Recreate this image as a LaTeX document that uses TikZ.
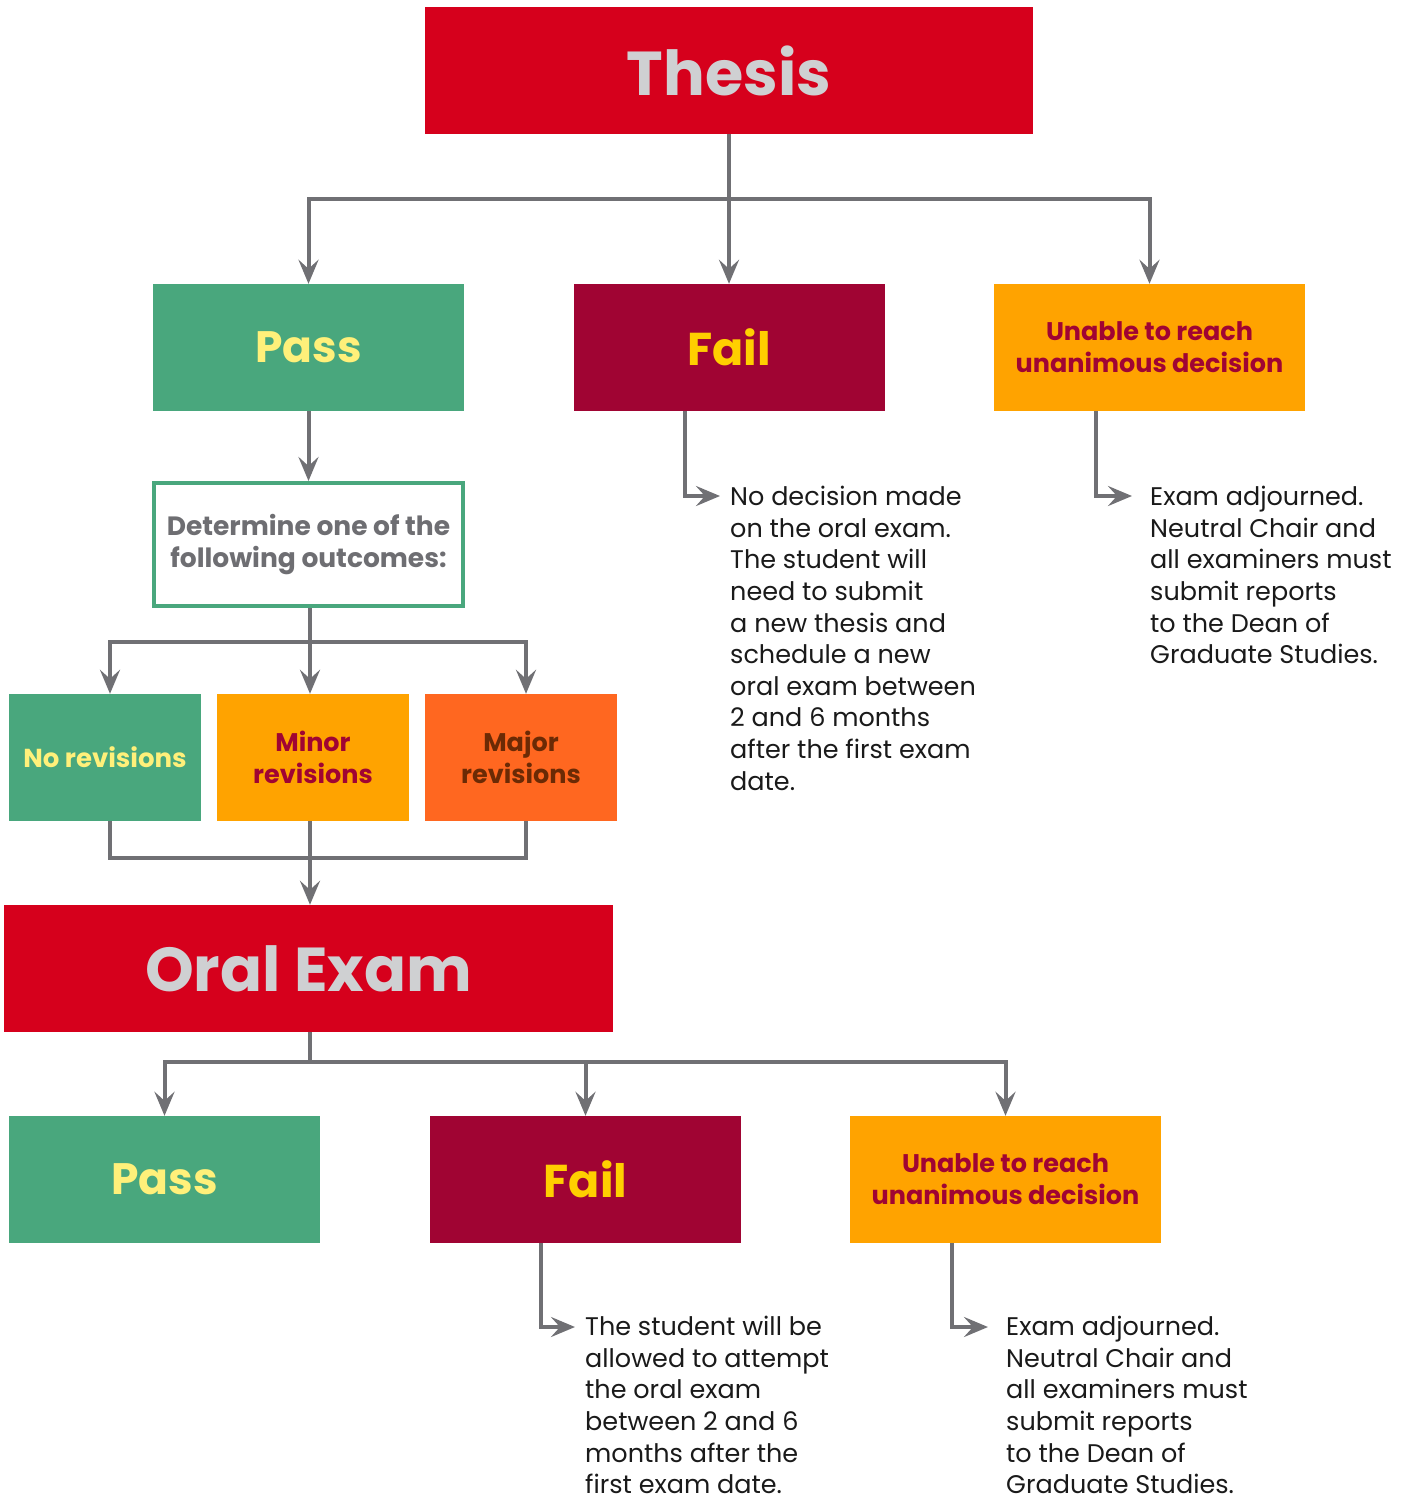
\documentclass[tikz,border=0pt]{standalone}
\usepackage{fontspec}
\setmainfont{Poppins}
\usetikzlibrary{arrows.meta}
\definecolor{cred}{HTML}{D6001C}
\definecolor{cgreen}{HTML}{49A77D}
\definecolor{cdark}{HTML}{A00433}
\definecolor{corange}{HTML}{FFA300}
\definecolor{corange2}{HTML}{FF6720}
\definecolor{cline}{HTML}{707074}
\definecolor{ctitle}{HTML}{CFD0D2}
\definecolor{cyel}{HTML}{FFF07A}
\definecolor{cgold}{HTML}{FFCF00}
\definecolor{cbrown}{HTML}{6B2A05}
\definecolor{cgtext}{HTML}{6E6E72}
\definecolor{ctext}{HTML}{1A1A1A}
\tikzset{
  x=1pt,y=-1pt,
  box/.style={rectangle,inner sep=0pt,minimum height=127pt,align=center,font=\bfseries},
  wbox/.style={box,minimum width=311pt},
  sbox/.style={box,minimum width=192pt},
  conn/.style={draw=cline,line width=4pt,-{Stealth[length=24pt,width=20pt,inset=9pt]}},
  plain/.style={draw=cline,line width=4pt},
  note/.style={anchor=north west,inner sep=0pt,align=left,text=ctext,font=\fontsize{25.5}{31.6}\selectfont},
}
\begin{document}
\begin{tikzpicture}
\useasboundingbox (0,0) rectangle (1410,1500);
% boxes
\node[box,minimum width=608pt,fill=cred,text=ctitle,font=\fontsize{62}{70}\selectfont\bfseries] (thesis) at (729,70.5) {Thesis};
\node[wbox,fill=cgreen,text=cyel,font=\fontsize{44}{52}\selectfont\bfseries] (pass1) at (308.5,347.5) {Pass};
\node[wbox,fill=cdark,text=cgold,font=\fontsize{46}{52}\selectfont\bfseries] (fail1) at (729,347.5) {Fail};
\node[wbox,fill=corange,text=cdark,font=\fontsize{25.5}{32}\selectfont\bfseries] (un1) at (1149.5,347.5) {Unable to reach\\unanimous decision};
\node[box,minimum width=309pt,minimum height=123pt,draw=cgreen,line width=4pt,fill=white,text=cgtext,font=\fontsize{26.5}{32}\selectfont\bfseries] (det) at (308.5,544.5) {Determine one of the\\following outcomes:};
\node[sbox,fill=cgreen,text=cyel,font=\fontsize{26}{32}\selectfont\bfseries] (norev) at (105,757.5) {No revisions};
\node[sbox,fill=corange,text=cdark,font=\fontsize{25.5}{32}\selectfont\bfseries] (minor) at (313,757.5) {Minor\\revisions};
\node[sbox,fill=corange2,text=cbrown,font=\fontsize{25.5}{32}\selectfont\bfseries] (major) at (521,757.5) {Major\\revisions};
\node[box,minimum width=609pt,fill=cred,text=ctitle,font=\fontsize{62}{70}\selectfont\bfseries] (oral) at (308.5,968.5) {Oral Exam};
\node[wbox,fill=cgreen,text=cyel,font=\fontsize{44}{52}\selectfont\bfseries] (pass2) at (164.5,1179.5) {Pass};
\node[wbox,fill=cdark,text=cgold,font=\fontsize{46}{52}\selectfont\bfseries] (fail2) at (585.5,1179.5) {Fail};
\node[wbox,fill=corange,text=cdark,font=\fontsize{25.5}{32}\selectfont\bfseries] (un2) at (1005.5,1179.5) {Unable to reach\\unanimous decision};
% notes
\node[note] (n1) at (730,486) {No decision made\\on the oral exam.\\The student will\\need to submit\\a new thesis and\\schedule a new\\oral exam between\\2 and 6 months\\after the first exam\\date.};
\node[note] (n2) at (1150,486) {Exam adjourned.\\Neutral Chair and\\all examiners must\\submit reports\\to the Dean of\\Graduate Studies.};
\node[note] (n3) at (585,1316) {The student will be\\allowed to attempt\\the oral exam\\between 2 and 6\\months after the\\first exam date.};
\node[note] (n4) at (1006,1316) {Exam adjourned.\\Neutral Chair and\\all examiners must\\submit reports\\to the Dean of\\Graduate Studies.};
% coordinates
\coordinate (tb) at (729,199);
\coordinate (b1) at (310,642);
\coordinate (b2) at (310,858);
\coordinate (ob) at (310,1062);
% thesis connectors
\draw[conn] (thesis.south) -- (fail1.north);
\draw[conn] (tb) -| (pass1.north);
\draw[conn] (tb) -| (un1.north);
\draw[conn] (pass1.south) -- (det.north);
% determine
\draw[plain] (det.south -| b1) -- (b1);
\draw[conn] (b1) -- (b1 |- minor.north);
\draw[conn] (b1) -| ([xshift=5pt]norev.north);
\draw[conn] (b1) -| ([xshift=5pt]major.north);
\draw[plain] ([xshift=5pt]norev.south) |- (b2) -| ([xshift=5pt]major.south);
\draw[plain] (b1 |- minor.south) -- (b2);
\draw[conn] (b2) -- (b2 |- oral.north);
% oral
\draw[plain] (oral.south -| ob) -- (ob);
\draw[conn] (ob) -| (pass2.north);
\draw[conn] (ob) -| (fail2.north);
\draw[conn] (ob) -| (un2.north);
% side notes
\draw[conn] ([xshift=-44pt]fail1.south) |- ([xshift=-10pt,yshift=-10pt]n1.north west);
\draw[conn] ([xshift=-53.5pt]un1.south) |- ([xshift=-18pt,yshift=-10pt]n2.north west);
\draw[conn] ([xshift=-44.5pt]fail2.south) |- ([xshift=-10pt,yshift=-11pt]n3.north west);
\draw[conn] ([xshift=-53.5pt]un2.south) |- ([xshift=-18pt,yshift=-11pt]n4.north west);
\end{tikzpicture}
\end{document}
